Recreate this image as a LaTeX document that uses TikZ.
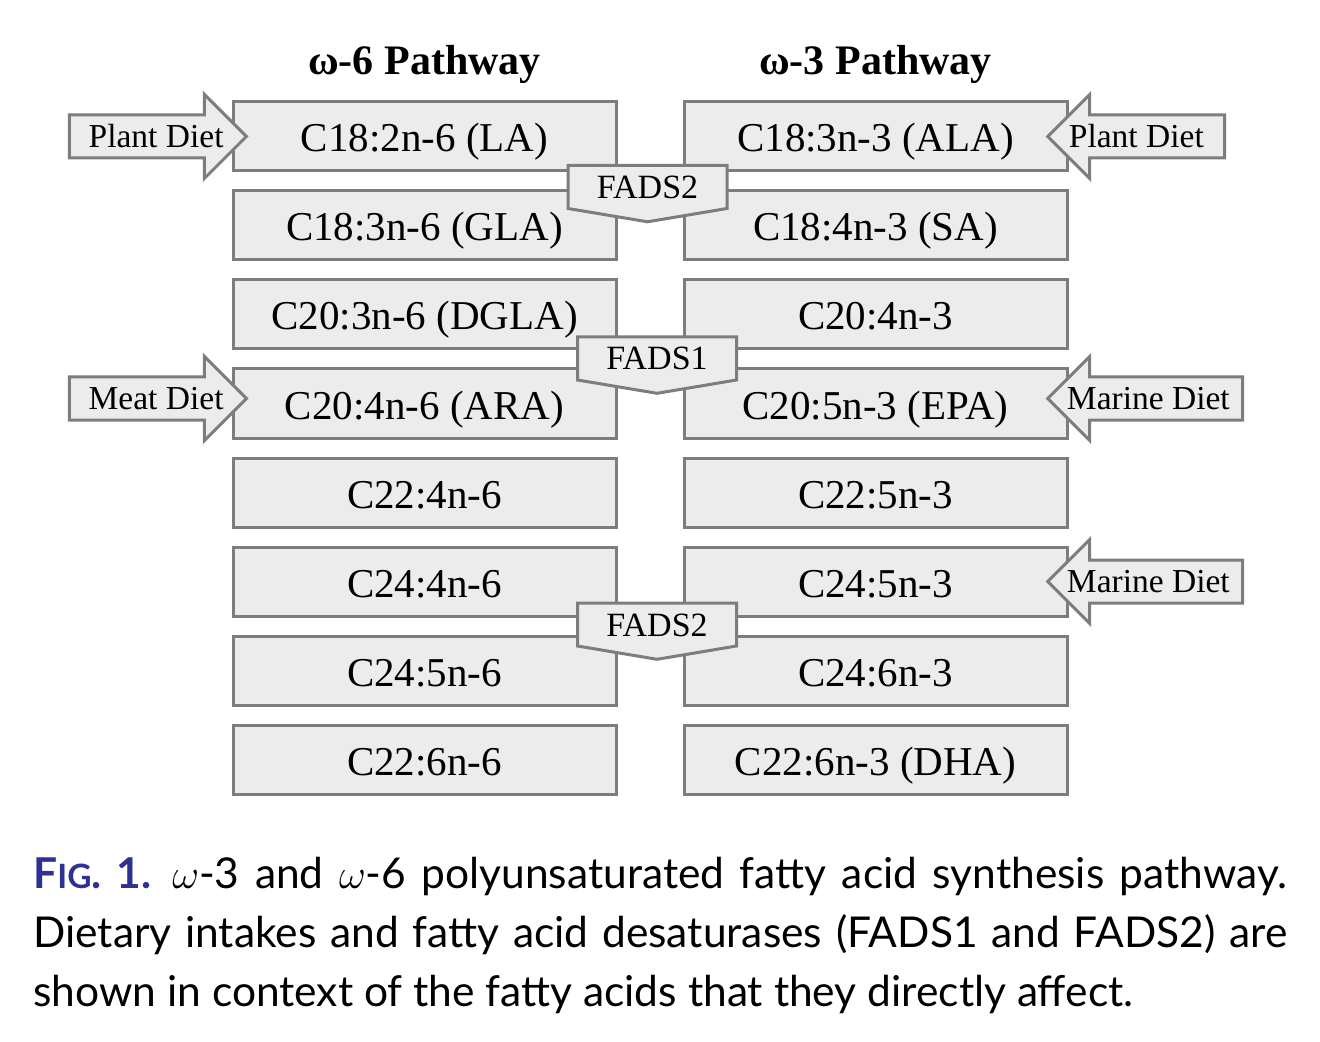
\documentclass[tikz,border=0pt]{standalone}
\usepackage{fontspec}
\setmainfont{Liberation Serif}
\newfontfamily\capfont{Lato}
\usetikzlibrary{positioning,shapes.arrows,shapes.symbols}
\definecolor{boxfill}{RGB}{236, 236, 236}
\definecolor{boxline}{RGB}{125, 125, 125}
\definecolor{figblue}{RGB}{46, 49, 146}

\tikzset{
    acid/.style={
        rectangle,
        draw=boxline,
        fill=boxfill,
        line width=1.5pt,
        minimum width=191.5pt,
        minimum height=34.5pt,
        text height=16pt,
        text depth=0.5pt,
        font=\fontsize{20.5}{21}\selectfont
    },
    diet/.style={
        single arrow,
        single arrow head extend=10.25pt,
        single arrow head indent=0pt,
        draw=boxline,
        fill=boxfill,
        line width=1.5pt,
        text height=11pt,
        text depth=0pt,
        inner ysep=4.5pt,
        inner xsep=2pt,
        minimum height=88.5pt,
        font=\fontsize{16.75}{17}\selectfont
    },
    enzyme/.style={
        signal,
        signal to=south,
        signal from=nowhere,
        signal pointer angle=161,
        draw=boxline,
        fill=boxfill,
        line width=1.5pt,
        minimum width=79.5pt,
        text height=11.5pt,
        text depth=0pt,
        inner ysep=5pt,
        font=\fontsize{17}{17}\selectfont
    },
    pathway/.style={
        font=\fontsize{21}{22}\selectfont\bfseries
    }
}

\begin{document}
\begin{tikzpicture}[x=0.5pt, y=-0.5pt, node distance=8.5pt and 32.5pt]

        \useasboundingbox (0,0) rectangle (1320,1042);

        % omega-6 column
        \node (la) [acid] at (424.5,136.5) {C18:2n-6 (LA)};
        \node (gla) [acid, below=of la] {C18:3n-6 (GLA)};
        \node (dgla) [acid, below=of gla] {C20:3n-6 (DGLA)};
        \node (ara) [acid, below=of dgla] {C20:4n-6 (ARA)};
        \node (c224n6) [acid, below=of ara] {C22:4n-6};
        \node (c244n6) [acid, below=of c224n6] {C24:4n-6};
        \node (c245n6) [acid, below=of c244n6] {C24:5n-6};
        \node (c226n6) [acid, below=of c245n6] {C22:6n-6};

        % omega-3 column
        \node (ala) [acid, right=of la] {C18:3n-3 (ALA)};
        \node (sa) [acid, below=of ala] {C18:4n-3 (SA)};
        \node (c204n3) [acid, below=of sa] {C20:4n-3};
        \node (epa) [acid, below=of c204n3] {C20:5n-3 (EPA)};
        \node (c225n3) [acid, below=of epa] {C22:5n-3};
        \node (c245n3) [acid, below=of c225n3] {C24:5n-3};
        \node (c246n3) [acid, below=of c245n3] {C24:6n-3};
        \node (dha) [acid, below=of c246n3] {C22:6n-3 (DHA)};

        % titles
        \node (omega6) [pathway, above=5pt of la] {ω-6 Pathway};
        \node (omega3) [pathway, above=5pt of ala] {ω-3 Pathway};

        % desaturases
        \node (fadsa) [enzyme] at (647.5,187) {FADS2};
        \node (fadsb) [enzyme] at (657,358.5) {FADS1};
        \node (fadsc) [enzyme] at (657,624.5) {FADS2};

        % dietary intakes
        \node (plantsix) [diet, anchor=tip] at ([xshift=8.5pt]la.west)
            {Plant Diet\kern-9pt};
        \node (meat) [diet, anchor=tip] at ([xshift=8.5pt, yshift=2.5pt]ara.west)
            {Meat Diet\kern-9pt};
        \node (plantthree) [diet, shape border rotate=180, anchor=tip]
            at ([xshift=-11.5pt]ala.east) {\kern-10.5pt Plant Diet};
        \node (marinea) [diet, shape border rotate=180, anchor=tip, minimum height=97.5pt]
            at ([xshift=-11.5pt, yshift=2.5pt]epa.east) {\kern-7.5pt Marine Diet};
        \node (marineb) [diet, shape border rotate=180, anchor=tip, minimum height=97.5pt]
            at ([xshift=-11.5pt]c245n3.east) {\kern-7.5pt Marine Diet};

        % caption
        \node (caption) [anchor=north west, text width=627pt, align=justify, inner sep=0pt,
            font=\capfont\fontsize{21.25}{29.5}\selectfont] at (33,857)
        {
            {\color{figblue}\bfseries F{\fontsize{16.75}{16}\selectfont IG}. 1.}\enspace
            $\omega$-3 and $\omega$-6 polyunsaturated fatty acid synthesis pathway.\linebreak
            Dietary intakes and fatty acid desaturases (FADS1 and FADS2) are\linebreak
            shown in context of the fatty acids that they directly affect.
        };
    \end{tikzpicture}
\end{document}
